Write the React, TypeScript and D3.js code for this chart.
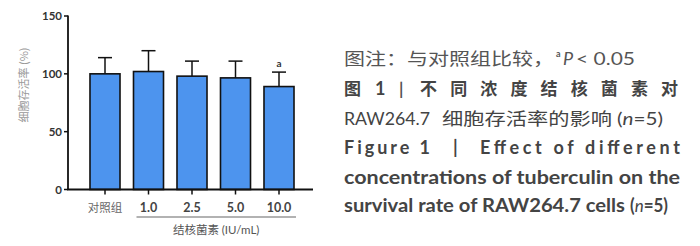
import React from "react";
import * as d3 from "d3";

const categories = ["对照组", "1.0", "2.5", "5.0", "10.0"];
const means = [100, 102, 98, 96.5, 89];
const sds = [14, 18, 13, 14.5, 12.5];
const marks = ["", "", "", "", "a"];
const yTicks = [0, 50, 100, 150];

const W = 700, H = 246;
const axisX = 68;
const x = d3.scaleBand<string>().domain(categories).range([83.25, 300.75]).paddingInner(0.31).paddingOuter(0.155);
const y = d3.scaleLinear().domain([0, 150]).range([189.5, 16]);

const cjk = "'Noto Sans CJK SC', sans-serif";
const lat = "Lato, 'Noto Sans', sans-serif";

export default function App() {
  const bw = x.bandwidth();
  const treated = categories.slice(1);
  const ulStart = (x(treated[0]) as number) + 3;
  const ulEnd = (x(treated[treated.length - 1]) as number) + bw + 2;
  return (
    <svg width={W} height={H} style={{ position: "absolute", left: 0, top: 0, background: "#fff" }}>
      {/* bars */}
      {categories.map((c, i) => {
        const bx = x(c) as number;
        const cx = bx + bw / 2;
        const top = y(means[i]);
        const et = y(means[i] + sds[i]);
        return (
          <g key={c}>
            <line x1={cx} x2={cx} y1={top} y2={et} stroke="#111" strokeWidth={1.5} />
            <line x1={cx - 7} x2={cx + 7} y1={et} y2={et} stroke="#111" strokeWidth={1.5} />
            <rect x={bx} y={top} width={bw} height={y(0) - top} fill="#4d94ee" stroke="#111" strokeWidth={1.6} />
            {marks[i] && (
              <text x={cx} y={et - 5} textAnchor="middle" fontFamily={lat} fontSize={10} fontWeight="bold" fill="#333">{marks[i]}</text>
            )}
          </g>
        );
      })}
      {/* y axis */}
      <line x1={axisX} x2={axisX} y1={y(150) - 0.5} y2={y(0)} stroke="#111" strokeWidth={1.8} />
      {yTicks.map((t) => (
        <g key={t}>
          <line x1={axisX - 4} x2={axisX} y1={y(t)} y2={y(t)} stroke="#111" strokeWidth={1.5} />
          <text x={axisX - 6} y={y(t) + 4} textAnchor="end" fontFamily={lat} fontSize={11.5} fontWeight="bold" fill="#333">{t}</text>
        </g>
      ))}
      {/* x axis */}
      <line x1={axisX - 0.9} x2={313} y1={y(0)} y2={y(0)} stroke="#111" strokeWidth={1.8} />
      {categories.map((c, i) => {
        const cx = (x(c) as number) + bw / 2;
        return (
          <g key={c}>
            <line x1={cx} x2={cx} y1={y(0)} y2={y(0) + 5} stroke="#111" strokeWidth={1.5} />
            <text x={cx} y={212} textAnchor="middle" fontFamily={i === 0 ? cjk : lat} fontSize={i === 0 ? 11.5 : 12.5} fontWeight={i === 0 ? "normal" : "bold"} fill={i === 0 ? "#666" : "#444"}>{c}</text>
          </g>
        );
      })}
      <line x1={ulStart} x2={ulEnd} y1={217} y2={217} stroke="#999" strokeWidth={1.5} />
      <text x={(ulStart + ulEnd) / 2} y={234} textAnchor="middle" fontFamily={cjk} fontSize={11.5} fill="#555">结核菌素 <tspan fontFamily={lat}>(IU/mL)</tspan></text>
      <text transform={`translate(28,${85}) rotate(-90)`} textAnchor="middle" fontFamily={cjk} fontSize={11} fill="#999">细胞存活率 (%)</text>

      {/* caption */}
      <g fill="#444">
        <text x={344} y={65} fontFamily={cjk} fontSize={17} fill="#555" textLength={210} lengthAdjust="spacingAndGlyphs">图注：与对照组比较，</text>
        <text x={556} y={57} fontFamily={lat} fontSize={9} fontWeight="bold" fill="#555">a</text>
        <text x={563} y={65} fontFamily={lat} fontSize={18} fontStyle="italic" fill="#555">P</text>
        <text x={576} y={65} fontFamily={lat} fontSize={18} fill="#555" textLength={59} lengthAdjust="spacingAndGlyphs">{"< 0.05"}</text>

        <text x={344} y={95} fontFamily={cjk} fontSize={17} fontWeight="bold">图</text>
        <text x={375} y={95} fontFamily={lat} fontSize={18} fontWeight="bold">1</text>
        <text x={399} y={95} fontFamily={lat} fontSize={17} fontWeight="bold" fill="#555">|</text>
        <text x={420} y={95} fontFamily={cjk} fontSize={17} fontWeight="bold" textLength={258} lengthAdjust="spacing">不同浓度结核菌素对</text>

        <text x={344} y={124.5} fontFamily={lat} fontSize={18} textLength={86} lengthAdjust="spacingAndGlyphs">RAW264.7</text>
        <text x={442} y={124.5} fontFamily={cjk} fontSize={17} textLength={170} lengthAdjust="spacingAndGlyphs">细胞存活率的影响</text>
        <text x={617} y={124.5} fontFamily={lat} fontSize={18} textLength={46} lengthAdjust="spacingAndGlyphs">(<tspan fontStyle="italic">n</tspan>=5)</text>

        <text x={344} y={154} fontFamily={lat} fontSize={18} fontWeight="bold" textLength={86} lengthAdjust="spacing">Figure 1</text>
        <text x={453} y={154} fontFamily={lat} fontSize={18} fontWeight="bold">|</text>
        <text x={480} y={154} fontFamily={lat} fontSize={18} fontWeight="bold" textLength={200} lengthAdjust="spacing">Effect of different</text>

        <text x={344} y={183.5} fontFamily={lat} fontSize={18} fontWeight="bold" textLength={336} lengthAdjust="spacingAndGlyphs">concentrations of tuberculin on the</text>

        <text x={344} y={212} fontFamily={lat} fontSize={18} fontWeight="bold" textLength={281} lengthAdjust="spacingAndGlyphs">survival rate of RAW264.7 cells</text>
        <text x={630} y={212} fontFamily={lat} fontSize={18} fontWeight="bold" textLength={38} lengthAdjust="spacingAndGlyphs">(<tspan fontStyle="italic" fontWeight="normal">n</tspan>=5)</text>
      </g>
    </svg>
  );
}
